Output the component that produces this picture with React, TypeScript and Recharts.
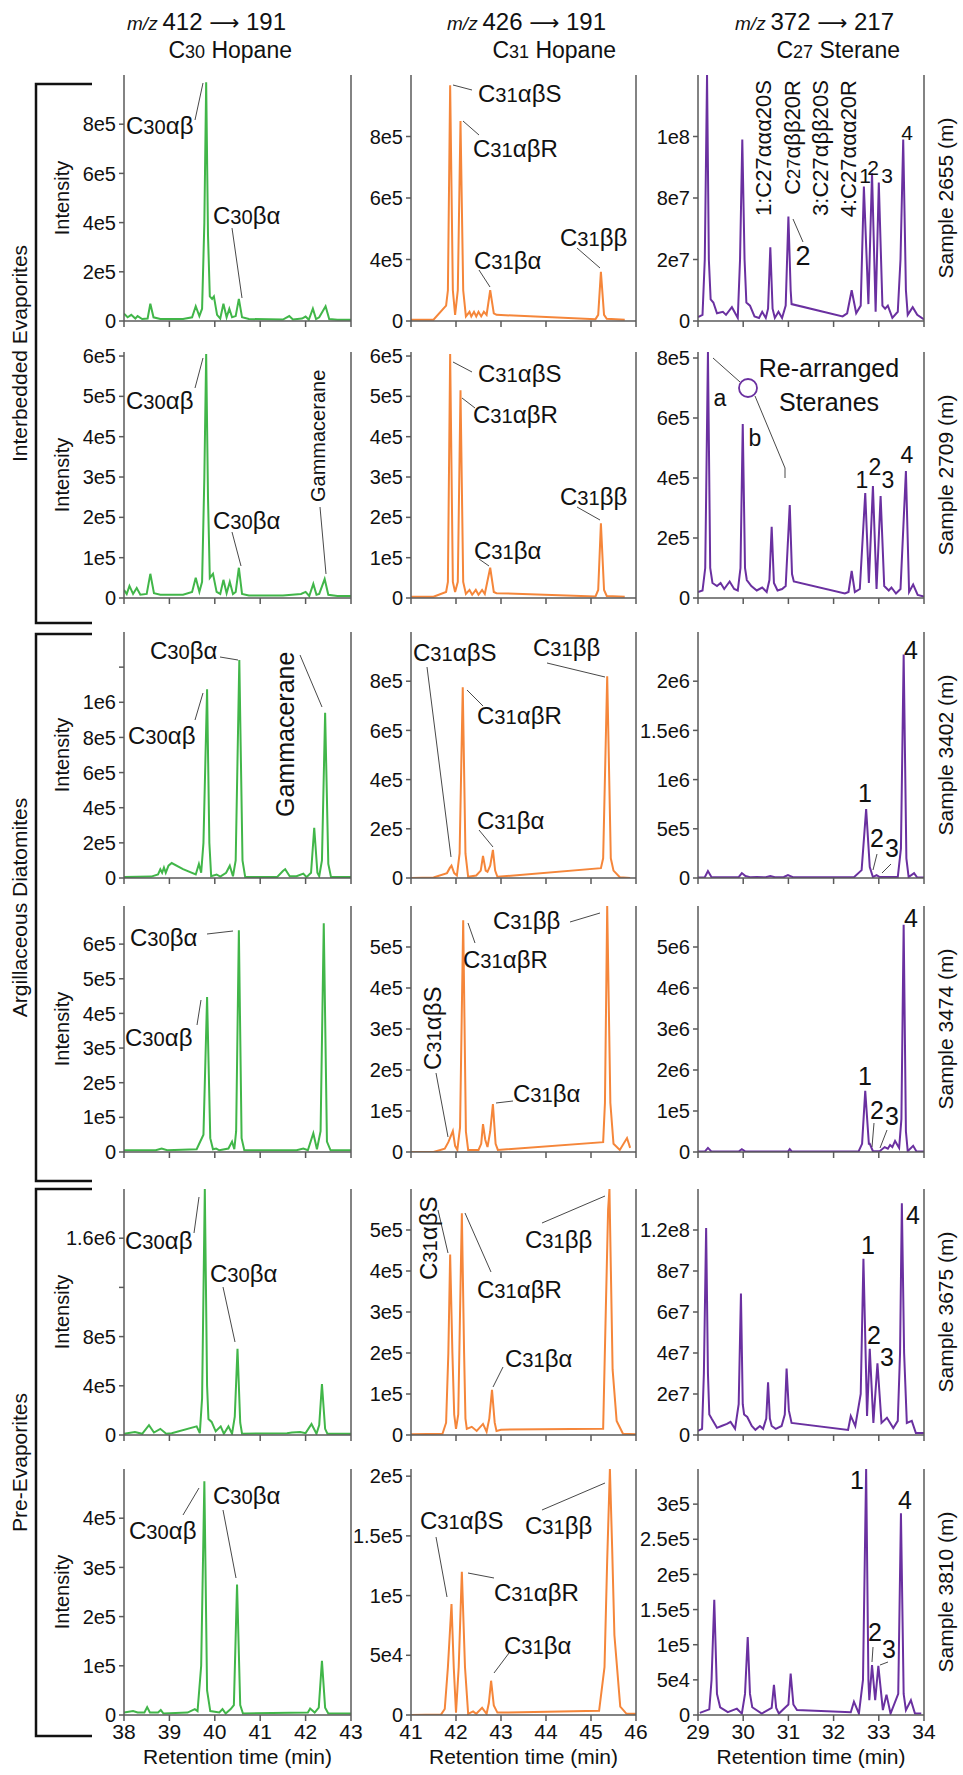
import React from 'react';
import { LineChart, Line, XAxis, YAxis, ReferenceLine, ReferenceDot } from 'recharts';

// retention time ticks (min), one set per column
const RT_C30 = [38, 39, 40, 41, 42, 43];
const RT_C31 = [41, 42, 43, 44, 45, 46];
const RT_C27 = [29, 30, 31, 32, 33, 34];

const SAMPLES = ['2655', '2709', '3402', '3474', '3675', '3810'];
const GROUPS = ['Interbedded Evaporites', 'Argillaceous Diatomites', 'Pre-Evaporites'];
const HEADERS = [
  { mz: '412', to: '191', c: '30', name: 'Hopane' },
  { mz: '426', to: '191', c: '31', name: 'Hopane' },
  { mz: '372', to: '217', c: '27', name: 'Sterane' },
];

// ---- chromatograms: [retention time, intensity] ----
const c30_2655 = [[38.0,3e4],[38.08,1.5e4],[38.16,2.5e4],[38.25,1e4],[38.3,2e4],[38.4,8e3],[38.52,1e4],[38.58,7e4],[38.65,1.5e4],[38.8,8e3],[39.3,8e3],[39.5,1.5e4],[39.58,6e4],[39.66,2e4],[39.72,5e4],[39.77,4e5],[39.81,9.7e5],[39.85,3.5e5],[39.89,1e5],[39.94,9e4],[39.98,1e5],[40.05,2.5e4],[40.12,1e4],[40.19,7e4],[40.26,1.5e4],[40.32,5e4],[40.38,1.5e4],[40.46,2e4],[40.53,9e4],[40.6,1.5e4],[40.75,8e3],[41.5,6e3],[41.64,2e4],[41.72,6e3],[41.92,1e4],[42.0,1.8e4],[42.07,5e3],[42.16,5e4],[42.23,8e3],[42.3,1.5e4],[42.44,6e4],[42.52,8e3],[42.7,5e3],[43.0,5e3]];
const c31_2655 = [[41.0,2.04e5],[41.5,2.04e5],[41.78,2.5e5],[41.82,3e5],[41.87,9.67e5],[41.93,3e5],[41.98,2.2e5],[42.04,3e5],[42.1,8.5e5],[42.16,3e5],[42.22,2.15e5],[42.3,2.3e5],[42.34,2.15e5],[42.4,2.3e5],[42.45,2.15e5],[42.5,2.3e5],[42.56,2.15e5],[42.62,2.3e5],[42.68,2.2e5],[42.76,3.0e5],[42.84,2.25e5],[42.9,2.2e5],[45.1,2.06e5],[45.16,2.2e5],[45.22,3.6e5],[45.29,2.2e5],[45.35,2.07e5],[45.75,2.04e5]];
const st_2655 = [[29.0,4.13e7],[29.1,4.2e7],[29.15,6e7],[29.2,1.2e8],[29.24,6e7],[29.28,4.7e7],[29.34,4.6e7],[29.42,4.25e7],[29.55,4.3e7],[29.62,4.2e7],[29.75,4.45e7],[29.88,4.1e7],[29.93,6e7],[29.98,9.9e7],[30.03,6e7],[30.07,4.6e7],[30.15,4.5e7],[30.25,4.15e7],[30.35,4.1e7],[30.42,4.3e7],[30.5,4.1e7],[30.55,4.4e7],[30.6,6.4e7],[30.65,4.4e7],[30.7,4.1e7],[30.78,4.3e7],[30.86,4.1e7],[30.94,4.5e7],[31.0,7.4e7],[31.05,5e7],[31.07,4.55e7],[32.2,4.15e7],[32.3,4.25e7],[32.4,5.0e7],[32.5,4.25e7],[32.6,4.5e7],[32.67,8.37e7],[32.77,4.55e7],[32.85,8.8e7],[32.93,4.3e7],[33.0,8.5e7],[33.08,4.5e7],[33.14,4.4e7],[33.2,4.5e7],[33.3,4.1e7],[33.42,4.3e7],[33.48,6e7],[33.54,9.9e7],[33.6,5e7],[33.64,4.2e7],[33.75,4.45e7],[33.85,4.2e7],[34.0,4.05e7]];

const c30_2709 = [[38.0,2e4],[38.06,1e4],[38.12,3e4],[38.2,1e4],[38.28,2.5e4],[38.36,8e3],[38.5,1e4],[38.58,6e4],[38.66,1.2e4],[38.8,8e3],[39.3,8e3],[39.5,1.5e4],[39.58,5e4],[39.66,1.5e4],[39.72,4e4],[39.77,3e5],[39.81,6.05e5],[39.85,2.5e5],[39.89,5e4],[39.96,6e4],[40.04,1.5e4],[40.12,1e4],[40.19,4.5e4],[40.26,1.2e4],[40.33,4e4],[40.4,1e4],[40.46,1.5e4],[40.53,7.5e4],[40.6,1e4],[40.75,6e3],[41.5,6e3],[41.9,1e4],[42.0,1.5e4],[42.08,5e3],[42.17,3.5e4],[42.24,8e3],[42.3,1e4],[42.42,4.7e4],[42.5,8e3],[42.7,5e3],[43.0,5e3]];
const c31_2709 = [[41.0,3e3],[41.5,3e3],[41.78,1.5e4],[41.82,4e4],[41.87,6.05e5],[41.93,4e4],[41.98,1.5e4],[42.04,4e4],[42.1,5.15e5],[42.16,4e4],[42.22,1e4],[42.3,2e4],[42.36,8e3],[42.44,2e4],[42.5,8e3],[42.58,2e4],[42.64,1e4],[42.76,7.5e4],[42.84,1.5e4],[42.9,1.2e4],[45.1,4e3],[45.16,2e4],[45.22,1.85e5],[45.29,2e4],[45.35,5e3],[45.75,3e3]];
const st_2709 = [[29.0,2e4],[29.1,2.5e4],[29.16,1e5],[29.22,8.2e5],[29.27,1e5],[29.32,5e4],[29.42,4e4],[29.5,5e4],[29.58,3e4],[29.7,5.5e4],[29.8,3e4],[29.88,2.5e4],[29.94,1e5],[29.99,5.8e5],[30.04,1e5],[30.08,6e4],[30.18,4e4],[30.3,2.5e4],[30.42,3.5e4],[30.52,2e4],[30.58,6e4],[30.63,2.37e5],[30.68,5e4],[30.76,2.5e4],[30.86,3e4],[30.94,4e4],[31.03,3.1e5],[31.08,8e4],[31.12,5.5e4],[32.25,1.5e4],[32.33,2e4],[32.4,9e4],[32.47,2e4],[32.58,3e4],[32.7,3.5e5],[32.78,5e4],[32.87,3.73e5],[32.95,3e4],[33.04,3.4e5],[33.12,4e4],[33.22,2.5e4],[33.28,3.5e4],[33.38,1.5e4],[33.48,3e4],[33.6,4.23e5],[33.67,2e4],[33.76,4.5e4],[33.86,1e4],[34.0,5e3]];

const c30_3402 = [[38.0,5e3],[38.6,8e3],[38.75,2e4],[38.8,5e4],[38.84,3e4],[38.88,6e4],[38.92,3e4],[38.98,7e4],[39.05,8.5e4],[39.3,5e4],[39.58,2e4],[39.65,8e4],[39.7,3e4],[39.75,2e5],[39.83,1.074e6],[39.88,2e5],[39.92,1e4],[40.04,2e4],[40.12,8e3],[40.25,3e4],[40.33,7e4],[40.4,1e4],[40.46,1e5],[40.54,1.24e6],[40.61,1e5],[40.67,5e3],[41.37,5e3],[41.5,4e4],[41.55,5e4],[41.65,1e4],[41.8,1e4],[41.95,2.5e4],[42.02,5e3],[42.12,3e4],[42.19,2.86e5],[42.26,3e4],[42.3,1e4],[42.36,1e5],[42.43,9.4e5],[42.5,8e4],[42.56,5e3],[43.0,5e3]];
const c31_3402 = [[41.0,0],[41.5,2e3],[41.8,2e4],[41.86,4e4],[41.9,5e4],[41.96,2e4],[42.02,1e4],[42.08,1e5],[42.15,7.75e5],[42.21,1e5],[42.27,5e3],[42.45,1e4],[42.55,3e4],[42.6,9e4],[42.66,3e4],[42.7,2.5e4],[42.76,5e4],[42.82,1.14e5],[42.87,3e4],[42.92,5e3],[45.22,4e4],[45.27,8e4],[45.36,8.2e5],[45.44,8e4],[45.5,3e4],[45.64,3e3],[45.87,0]];
const st_3402 = [[29.0,5e3],[29.15,8e3],[29.22,7e4],[29.3,8e3],[29.9,8e3],[29.97,5e4],[30.05,2e4],[30.15,8e3],[30.3,1e4],[30.5,8e3],[30.6,2e4],[30.7,8e3],[30.9,1e4],[30.99,3e4],[31.1,8e3],[32.45,8e3],[32.62,8e4],[32.72,7e5],[32.8,1.1e5],[32.87,1e4],[32.95,3e4],[33.02,1e4],[33.42,1e4],[33.49,3e5],[33.55,2.27e6],[33.61,2e5],[33.66,1e4],[33.78,5e4],[33.85,5e3],[34.0,5e3]];

const c30_3474 = [[38.0,5e3],[38.7,5e3],[38.83,1e4],[38.95,5e3],[39.6,8e3],[39.75,5e4],[39.83,4.47e5],[39.9,4e4],[39.96,8e3],[40.03,1e4],[40.1,5e3],[40.3,1e4],[40.38,3e4],[40.43,8e3],[40.47,6e4],[40.53,6.4e5],[40.59,4e4],[40.65,5e3],[41.8,5e3],[41.95,1e4],[42.05,5e3],[42.17,5.4e4],[42.25,8e3],[42.33,6e4],[42.4,6.6e5],[42.47,3e4],[42.55,5e3],[43.0,5e3]];
const c31_3474 = [[41.0,0],[41.5,0],[41.75,8e3],[41.83,2.4e4],[41.93,5.1e4],[41.98,1.5e4],[42.03,5e3],[42.09,6e4],[42.16,5.65e5],[42.22,5e4],[42.27,5e3],[42.5,5e3],[42.56,2e4],[42.6,6.8e4],[42.65,3e4],[42.7,1.2e4],[42.76,5e4],[42.82,1.17e5],[42.88,2e4],[42.93,5e3],[45.27,2.4e4],[45.31,1.2e5],[45.36,6e5],[45.43,1.2e5],[45.5,2e4],[45.64,5e3],[45.8,3.4e4],[45.87,1e4]];
const st_3474 = [[29.0,1e4],[29.15,1e4],[29.22,1e5],[29.3,1e4],[29.9,1e4],[29.97,7e4],[30.05,1e4],[30.99,1e4],[31.03,7e4],[31.08,1e4],[32.55,1e4],[32.63,2e5],[32.7,1.49e6],[32.78,2e5],[32.8,2e5],[32.87,2e4],[33.02,2e4],[33.13,1.2e5],[33.2,8e4],[33.25,1.7e5],[33.3,1.2e5],[33.36,2.7e5],[33.45,1e5],[33.5,8e5],[33.55,5.54e6],[33.6,5e5],[33.64,2e4],[33.76,1.5e5],[33.83,2e4],[34.0,1e4]];

const c30_3675 = [[38.0,1e4],[38.24,2.5e4],[38.4,1e4],[38.55,8e4],[38.66,2e4],[38.8,5e4],[38.93,1e4],[39.05,1.5e4],[39.6,7e4],[39.67,1.5e4],[39.72,3e5],[39.78,2.0e6],[39.83,4e5],[39.86,1.3e5],[39.93,1.06e5],[40.02,3e4],[40.13,7e4],[40.2,1e4],[40.3,7e4],[40.38,1e4],[40.44,1.5e5],[40.5,7e5],[40.56,1e5],[40.6,1e4],[41.59,1.5e4],[41.7,2e4],[41.88,2.5e4],[42.0,1.5e4],[42.13,9e4],[42.24,1e4],[42.3,8e4],[42.36,4.15e5],[42.43,5e4],[42.48,1e4],[43.0,1e4]];
const c31_3675 = [[41.0,2e3],[41.7,3e3],[41.78,3e4],[41.83,2e5],[41.87,4.4e5],[41.92,2e5],[41.96,5e4],[42.0,1.5e4],[42.05,5e4],[42.09,3e5],[42.13,5.41e5],[42.18,2e5],[42.21,4e4],[42.24,1.5e4],[42.35,2e4],[42.46,1e4],[42.6,2.7e4],[42.68,8e3],[42.74,4e4],[42.8,1.1e5],[42.86,3e4],[42.9,1e4],[43.0,1.3e4],[45.27,1.5e4],[45.33,3.1e5],[45.38,5.5e5],[45.41,6e5],[45.48,1.6e5],[45.57,3.4e4],[45.71,3e3],[46.0,2e3]];
const st_3675 = [[29.0,2e6],[29.09,3e6],[29.13,3e7],[29.18,1.01e8],[29.22,3e7],[29.25,1e7],[29.3,8e6],[29.42,3.5e6],[29.52,4.4e6],[29.64,5.4e6],[29.72,6.4e6],[29.82,3e6],[29.9,1.5e7],[29.95,6.9e7],[29.99,1.5e7],[30.02,1e7],[30.09,8.8e6],[30.19,4.4e6],[30.27,2.5e6],[30.37,4.4e6],[30.44,3e6],[30.51,8e6],[30.55,2.57e7],[30.59,8e6],[30.63,4.4e6],[30.72,3e6],[30.85,4.4e6],[30.92,1e7],[30.96,3.24e7],[31.01,1.2e7],[31.07,5.9e6],[32.32,2.5e6],[32.38,9.3e6],[32.48,4.4e6],[32.6,2e7],[32.66,8.6e7],[32.74,9.3e6],[32.8,4.2e7],[32.88,5.9e6],[32.97,3.5e7],[33.06,5.9e6],[33.18,8.4e6],[33.32,3.4e6],[33.42,6.9e6],[33.47,4e7],[33.51,1.13e8],[33.56,4e7],[33.62,5.9e6],[33.73,6.9e6],[33.82,1e6],[34.0,1e6]];

const c30_3810 = [[38.0,5e3],[38.2,8e3],[38.3,5e3],[38.45,5e3],[38.51,1.6e4],[38.57,5e3],[38.75,5e3],[38.81,1e4],[38.87,3e3],[39.4,5e3],[39.56,1.2e4],[39.62,8e3],[39.7,1e5],[39.77,4.75e5],[39.83,5e4],[39.9,8e3],[40.1,5e3],[40.17,1.2e4],[40.24,3e3],[40.35,1.2e4],[40.42,2e4],[40.49,2.65e5],[40.56,2e4],[40.62,3e3],[42.05,5e3],[42.1,1.3e4],[42.2,5e3],[42.29,1.5e4],[42.36,1.1e5],[42.43,1.5e4],[42.5,3e3],[43.0,3e3]];
const c31_3810 = [[41.0,0],[41.67,500],[41.75,5e3],[41.82,4e4],[41.9,9.3e4],[41.95,4e4],[42.0,2e3],[42.06,4e4],[42.13,1.2e5],[42.2,4e4],[42.27,1e3],[42.38,3e3],[42.45,1e3],[42.58,6e3],[42.68,1e3],[42.73,1e4],[42.78,2.87e4],[42.84,8e3],[42.92,2e3],[45.18,3.5e3],[45.3,4e4],[45.36,1.3e5],[45.42,2.06e5],[45.47,1.4e5],[45.52,6.7e4],[45.65,7e3],[45.79,1e3],[46.0,1e3]];
const st_3810 = [[29.04,3e3],[29.25,8e3],[29.3,5e4],[29.36,1.64e5],[29.42,3e4],[29.49,1.1e4],[29.66,4e3],[29.86,9e3],[29.97,2e3],[30.04,3e4],[30.1,1.11e5],[30.15,3e4],[30.2,1.1e4],[30.41,2e3],[30.63,1e4],[30.68,4.3e4],[30.73,1e4],[30.79,2e3],[31.0,1.5e4],[31.05,5.9e4],[31.11,1.5e4],[31.19,7e3],[32.38,4e3],[32.45,1.9e4],[32.56,2e3],[32.65,5e4],[32.72,3.5e5],[32.77,5e4],[32.79,2.1e4],[32.85,7.1e4],[32.92,2.1e4],[32.99,7e4],[33.09,7e3],[33.17,2.9e4],[33.26,2e3],[33.43,3e4],[33.49,2.87e5],[33.55,3e4],[33.6,7e3],[33.71,2.1e4],[33.8,2e3],[33.94,2e3]];

// ---- y tick values and the labels printed at them ----
const yt_2655_c30 = [0, 2e5, 4e5, 6e5, 8e5];   const yl_2655_c30 = ['0', '2e5', '4e5', '6e5', '8e5'];
const yt_2655_c31 = [2e5, 4e5, 6e5, 8e5];      const yl_2655_c31 = ['0', '4e5', '6e5', '8e5'];
const yt_2655_st = [4e7, 6e7, 8e7, 1e8];       const yl_2655_st = ['0', '2e7', '8e7', '1e8'];
const yt_2709_c30 = [0, 1e5, 2e5, 3e5, 4e5, 5e5, 6e5]; const yl_2709_c30 = ['0', '1e5', '2e5', '3e5', '4e5', '5e5', '6e5'];
const yt_2709_c31 = [0, 1e5, 2e5, 3e5, 4e5, 5e5, 6e5]; const yl_2709_c31 = ['0', '1e5', '2e5', '3e5', '4e5', '5e5', '6e5'];
const yt_2709_st = [0, 2e5, 4e5, 6e5, 8e5];    const yl_2709_st = ['0', '2e5', '4e5', '6e5', '8e5'];
const yt_3402_c30 = [0, 2e5, 4e5, 6e5, 8e5, 1e6, 1.2e6]; const yl_3402_c30 = ['0', '2e5', '4e5', '6e5', '8e5', '1e6', ''];
const yt_3402_c31 = [0, 2e5, 4e5, 6e5, 8e5];   const yl_3402_c31 = ['0', '2e5', '4e5', '6e5', '8e5'];
const yt_3402_st = [0, 5e5, 1e6, 1.5e6, 2e6];  const yl_3402_st = ['0', '5e5', '1e6', '1.5e6', '2e6'];
const yt_3474_c30 = [0, 1e5, 2e5, 3e5, 4e5, 5e5, 6e5]; const yl_3474_c30 = ['0', '1e5', '2e5', '3e5', '4e5', '5e5', '6e5'];
const yt_3474_c31 = [0, 1e5, 2e5, 3e5, 4e5, 5e5]; const yl_3474_c31 = ['0', '1e5', '2e5', '3e5', '4e5', '5e5'];
const yt_3474_st = [0, 1e6, 2e6, 3e6, 4e6, 5e6]; const yl_3474_st = ['0', '1e5', '2e6', '3e6', '4e6', '5e6'];
const yt_3675_c30 = [0, 4e5, 8e5, 1.2e6, 1.6e6]; const yl_3675_c30 = ['0', '4e5', '8e5', '', '1.6e6'];
const yt_3675_c31 = [0, 1e5, 2e5, 3e5, 4e5, 5e5]; const yl_3675_c31 = ['0', '1e5', '2e5', '3e5', '4e5', '5e5'];
const yt_3675_st = [0, 2e7, 4e7, 6e7, 8e7, 1e8]; const yl_3675_st = ['0', '2e7', '4e7', '6e7', '8e7', '1.2e8'];
const yt_3810_c30 = [0, 1e5, 2e5, 3e5, 4e5];   const yl_3810_c30 = ['0', '1e5', '2e5', '3e5', '4e5'];
const yt_3810_c31 = [0, 5e4, 1e5, 1.5e5, 2e5]; const yl_3810_c31 = ['0', '5e4', '1e5', '1.5e5', '2e5'];
const yt_3810_st = [0, 5e4, 1e5, 1.5e5, 2e5, 2.5e5, 3e5]; const yl_3810_st = ['0', '5e4', '1e5', '1.5e5', '2e5', '2.5e5', '3e5'];

// ---- layout ----
const W = 963;
const H = 1775;
const FONT = "'Liberation Sans', Arial, Helvetica, sans-serif";
const GREEN = '#41b649';
const ORANGE = '#f5863a';
const PURPLE = '#6a30a0';
const AX = '#5a5a5a';
const ML = 80;
const MR = 8;
const PAD_R = 16;
const MT = 14;
const PH = 246;
const COLS = [
  { left: 124, w: 227, rt: RT_C30, color: GREEN },
  { left: 411, w: 225, rt: RT_C31, color: ORANGE },
  { left: 698, w: 226, rt: RT_C27, color: PURPLE },
];
const ROW_TOP = [75, 352, 632, 906, 1189, 1469];
const BRACKETS = [[84, 623], [634, 1181], [1189, 1736]];

type Note = { dx: number; dy: number; text: string; rot?: boolean; anchor?: 'start' | 'middle' | 'end'; fs?: number };
type Panel = {
  row: number; col: number; data: number[][]; dom: [number, number]; yt: number[]; yl: string[];
  notes: Note[]; leads: number[][]; ring?: { dx: number; dy: number; r: number };
};

// annotation positions are pixel offsets from the panel's top-left corner
const PANELS: Panel[] = [
  { row: 0, col: 0, data: c30_2655, dom: [0, 1e6], yt: yt_2655_c30, yl: yl_2655_c30,
    notes: [{ dx: 2, dy: 50, text: 'C30αβ' }, { dx: 89, dy: 140, text: 'C30βα' }],
    leads: [[71, 45, 79, 8], [108, 153, 118, 223]] },
  { row: 0, col: 1, data: c31_2655, dom: [2e5, 1e6], yt: yt_2655_c31, yl: yl_2655_c31,
    notes: [{ dx: 67, dy: 18, text: 'C31αβS' }, { dx: 62, dy: 73, text: 'C31αβR' }, { dx: 63, dy: 185, text: 'C31βα' }, { dx: 149, dy: 162, text: 'C31ββ' }],
    leads: [[61, 15, 42, 10], [52, 46, 68, 60], [68, 195, 79, 212], [166, 173, 189, 193]] },
  { row: 0, col: 2, data: st_2655, dom: [4e7, 1.2e8], yt: yt_2655_st, yl: yl_2655_st,
    notes: [
      { dx: 65, dy: 5, text: '1:C27ααα20S', rot: true, anchor: 'end', fs: 22 },
      { dx: 94, dy: 5, text: 'C27αββ20R', rot: true, anchor: 'end', fs: 22 },
      { dx: 122, dy: 5, text: '3:C27αββ20S', rot: true, anchor: 'end', fs: 22 },
      { dx: 150, dy: 5, text: '4:C27ααα20R', rot: true, anchor: 'end', fs: 22 },
      { dx: 105, dy: 180, text: '2', fs: 27 },
      { dx: 167, dy: 100, text: '1', fs: 21 }, { dx: 175, dy: 92, text: '2', fs: 21 },
      { dx: 189, dy: 100, text: '3', fs: 21 }, { dx: 209, dy: 57, text: '4', fs: 21 },
    ],
    leads: [[95, 144, 105, 167]] },

  { row: 1, col: 0, data: c30_2709, dom: [0, 6.1e5], yt: yt_2709_c30, yl: yl_2709_c30,
    notes: [{ dx: 2, dy: 48, text: 'C30αβ' }, { dx: 89, dy: 168, text: 'C30βα' }, { dx: 194, dy: 150, text: 'Gammacerane', rot: true, fs: 20 }],
    leads: [[71, 36, 79, 6], [108, 180, 117, 214], [196, 155, 202, 222]] },
  { row: 1, col: 1, data: c31_2709, dom: [0, 6.1e5], yt: yt_2709_c31, yl: yl_2709_c31,
    notes: [{ dx: 67, dy: 21, text: 'C31αβS' }, { dx: 62, dy: 62, text: 'C31αβR' }, { dx: 63, dy: 198, text: 'C31βα' }, { dx: 149, dy: 144, text: 'C31ββ' }],
    leads: [[61, 20, 42, 10], [51, 46, 64, 56], [68, 207, 78, 214], [166, 155, 189, 168]] },
  { row: 1, col: 2, data: st_2709, dom: [0, 8.2e5], yt: yt_2709_st, yl: yl_2709_st,
    notes: [
      { dx: 131, dy: 16, text: 'Re-arranged', anchor: 'middle', fs: 25 },
      { dx: 131, dy: 50, text: 'Steranes', anchor: 'middle', fs: 25 },
      { dx: 22, dy: 46, text: 'a', fs: 23 }, { dx: 57, dy: 86, text: 'b', fs: 23 },
      { dx: 164, dy: 128, text: '1', fs: 23 }, { dx: 177, dy: 115, text: '2', fs: 23 },
      { dx: 190, dy: 128, text: '3', fs: 23 }, { dx: 209, dy: 103, text: '4', fs: 23 },
    ],
    ring: { dx: 50, dy: 36, r: 9 },
    leads: [[15, 6, 42, 30], [57, 44, 87, 116], [87, 116, 87, 126]] },

  { row: 2, col: 0, data: c30_3402, dom: [0, 1.4e6], yt: yt_3402_c30, yl: yl_3402_c30,
    notes: [{ dx: 26, dy: 18, text: 'C30βα' }, { dx: 4, dy: 103, text: 'C30αβ' }, { dx: 161, dy: 185, text: 'Gammacerane', rot: true, fs: 25 }],
    leads: [[96, 25, 114, 28], [71, 88, 79, 61], [176, 23, 198, 75]] },
  { row: 2, col: 1, data: c31_3402, dom: [0, 1e6], yt: yt_3402_c31, yl: yl_3402_c31,
    notes: [{ dx: 2, dy: 20, text: 'C31αβS' }, { dx: 122, dy: 15, text: 'C31ββ' }, { dx: 66, dy: 83, text: 'C31αβR' }, { dx: 66, dy: 188, text: 'C31βα' }],
    leads: [[16, 35, 40, 225], [136, 31, 194, 45], [56, 58, 72, 74], [68, 198, 82, 215]] },
  { row: 2, col: 2, data: st_3402, dom: [0, 2.5e6], yt: yt_3402_st, yl: yl_3402_st,
    notes: [{ dx: 167, dy: 161, text: '1', fs: 25 }, { dx: 179, dy: 206, text: '2', fs: 25 }, { dx: 194, dy: 216, text: '3', fs: 25 }, { dx: 213, dy: 18, text: '4', fs: 25 }],
    leads: [[179, 222, 175, 238], [193, 232, 184, 241]] },

  { row: 3, col: 0, data: c30_3474, dom: [0, 7.1e5], yt: yt_3474_c30, yl: yl_3474_c30,
    notes: [{ dx: 6, dy: 31, text: 'C30βα' }, { dx: 1, dy: 131, text: 'C30αβ' }],
    leads: [[83, 28, 109, 25], [73, 119, 77, 94]] },
  { row: 3, col: 1, data: c31_3474, dom: [0, 6e5], yt: yt_3474_c31, yl: yl_3474_c31,
    notes: [{ dx: 82, dy: 14, text: 'C31ββ' }, { dx: 52, dy: 53, text: 'C31αβR' }, { dx: 21, dy: 164, text: 'C31αβS', rot: true }, { dx: 102, dy: 187, text: 'C31βα' }],
    leads: [[159, 16, 189, 7], [57, 17, 64, 37], [25, 167, 37, 231], [102, 195, 85, 197]] },
  { row: 3, col: 2, data: st_3474, dom: [0, 6e6], yt: yt_3474_st, yl: yl_3474_st,
    notes: [{ dx: 167, dy: 170, text: '1', fs: 25 }, { dx: 179, dy: 204, text: '2', fs: 25 }, { dx: 194, dy: 210, text: '3', fs: 25 }, { dx: 213, dy: 12, text: '4', fs: 25 }],
    leads: [[176, 217, 174, 241], [189, 224, 182, 242]] },

  { row: 4, col: 0, data: c30_3675, dom: [0, 2e6], yt: yt_3675_c30, yl: yl_3675_c30,
    notes: [{ dx: 1, dy: 51, text: 'C30αβ' }, { dx: 86, dy: 84, text: 'C30βα' }],
    leads: [[70, 44, 75, 8], [99, 98, 111, 153]] },
  { row: 4, col: 1, data: c31_3675, dom: [0, 6e5], yt: yt_3675_c31, yl: yl_3675_c31,
    notes: [{ dx: 17, dy: 91, text: 'C31αβS', rot: true }, { dx: 66, dy: 100, text: 'C31αβR' }, { dx: 114, dy: 50, text: 'C31ββ' }, { dx: 94, dy: 169, text: 'C31βα' }],
    leads: [[27, 21, 37, 64], [54, 24, 80, 83], [131, 34, 194, 7], [92, 178, 82, 198]] },
  { row: 4, col: 2, data: st_3675, dom: [0, 1.2e8], yt: yt_3675_st, yl: yl_3675_st,
    notes: [{ dx: 170, dy: 56, text: '1', fs: 25 }, { dx: 176, dy: 146, text: '2', fs: 25 }, { dx: 189, dy: 168, text: '3', fs: 25 }, { dx: 215, dy: 26, text: '4', fs: 25 }],
    leads: [] },

  { row: 5, col: 0, data: c30_3810, dom: [0, 5e5], yt: yt_3810_c30, yl: yl_3810_c30,
    notes: [{ dx: 5, dy: 61, text: 'C30αβ' }, { dx: 89, dy: 26, text: 'C30βα' }],
    leads: [[59, 46, 75, 19], [99, 41, 112, 109]] },
  { row: 5, col: 1, data: c31_3810, dom: [0, 2.06e5], yt: yt_3810_c31, yl: yl_3810_c31,
    notes: [{ dx: 9, dy: 51, text: 'C31αβS' }, { dx: 114, dy: 56, text: 'C31ββ' }, { dx: 83, dy: 123, text: 'C31αβR' }, { dx: 93, dy: 176, text: 'C31βα' }],
    leads: [[25, 68, 36, 128], [131, 41, 194, 14], [57, 104, 83, 109], [98, 184, 83, 204]] },
  { row: 5, col: 2, data: st_3810, dom: [0, 3.5e5], yt: yt_3810_st, yl: yl_3810_st,
    notes: [{ dx: 159, dy: 11, text: '1', fs: 25 }, { dx: 207, dy: 31, text: '4', fs: 25 }, { dx: 177, dy: 163, text: '2', fs: 25 }, { dx: 191, dy: 180, text: '3', fs: 25 }],
    leads: [[175, 178, 174, 193], [190, 193, 182, 196]] },
];

function NoteText({ cx, cy, n }: { cx: number; cy: number; n: Note }) {
  const fs = n.fs ?? 24;
  const anchor = n.anchor ?? (n.rot ? 'start' : n.text.length === 1 ? 'middle' : 'start');
  const m = /^C(\d+)(.*)$/.exec(n.text);
  const body = m
    ? [<tspan key="c">C</tspan>, <tspan key="d" fontSize={fs * 0.84}>{m[1]}</tspan>, <tspan key="r">{m[2]}</tspan>]
    : n.text;
  return (
    <text
      x={cx}
      y={cy}
      dy={fs * 0.36}
      textAnchor={anchor}
      fontSize={fs}
      fill="#111"
      fontFamily={FONT}
      transform={n.rot ? `rotate(-90 ${cx} ${cy})` : undefined}
    >
      {body}
    </text>
  );
}

function Chromatogram({ p }: { p: Panel }) {
  const c = COLS[p.col];
  const top = ROW_TOP[p.row];
  const last = p.row === ROW_TOP.length - 1;
  const mB = last ? 36 : 10;
  const x0 = c.rt[0];
  const x1 = c.rt[c.rt.length - 1];
  const [y0, y1] = p.dom;
  const tx = (dx: number) => x0 + (dx / c.w) * (x1 - x0);
  const ty = (dy: number) => y1 - (dy / PH) * (y1 - y0);
  const rows = p.data.map(([t, v]) => ({ t, v }));
  const tickStyle = { fontSize: 20, fill: '#111', fontFamily: FONT };

  return (
    <div style={{ position: 'absolute', left: c.left - ML, top: top - MT }}>
      <LineChart
        width={ML + c.w + MR + PAD_R}
        height={MT + PH + mB}
        data={rows}
        margin={{ top: MT, right: PAD_R, bottom: 0, left: 0 }}
      >
        <XAxis
          dataKey="t"
          type="number"
          domain={[x0, x1]}
          ticks={c.rt}
          interval={0}
          allowDataOverflow
          height={mB}
          tickSize={6}
          tickMargin={3}
          stroke={AX}
          strokeWidth={1.5}
          tick={{ ...tickStyle, fontSize: 21 }}
          tickFormatter={(v) => (last ? String(v) : '')}
        />
        <XAxis xAxisId="top" orientation="top" type="number" domain={[x0, x1]} allowDataOverflow height={0} tick={false} tickLine={false} stroke={AX} strokeWidth={1.5} />
        <YAxis
          type="number"
          domain={p.dom}
          ticks={p.yt}
          interval={0}
          allowDataOverflow
          width={ML}
          tickSize={5}
          tickMargin={3}
          stroke={AX}
          strokeWidth={1.5}
          tick={tickStyle}
          tickFormatter={(v) => p.yl[p.yt.indexOf(v)] ?? ''}
        />
        <YAxis yAxisId="r" orientation="right" type="number" domain={p.dom} allowDataOverflow width={MR} tick={false} tickLine={false} stroke={AX} strokeWidth={1.5} />
        <Line type="linear" dataKey="v" stroke={c.color} strokeWidth={2} dot={false} isAnimationActive={false} />
        {p.leads.map((l, i) => (
          <ReferenceLine
            key={'l' + i}
            segment={[{ x: tx(l[0]), y: ty(l[1]) }, { x: tx(l[2]), y: ty(l[3]) }]}
            stroke="#333"
            strokeWidth={0.9}
            ifOverflow="visible"
          />
        ))}
        {p.ring && (
          <ReferenceDot x={tx(p.ring.dx)} y={ty(p.ring.dy)} r={p.ring.r} fill="none" stroke={PURPLE} strokeWidth={1.8} ifOverflow="visible" />
        )}
        {p.notes.map((n, i) => (
          <ReferenceDot
            key={'n' + i}
            x={tx(n.dx)}
            y={ty(n.dy)}
            r={0}
            ifOverflow="visible"
            shape={(props: any) => <NoteText cx={props.cx} cy={props.cy} n={n} />}
          />
        ))}
      </LineChart>
    </div>
  );
}

export default function App() {
  const mzEnds = [286, 606, 894];
  const nameEnds = [292, 616, 900];
  return (
    <div style={{ position: 'absolute', left: 0, top: 0, width: W, height: H, background: '#fff', overflow: 'hidden' }}>
      {PANELS.map((p, i) => (
        <Chromatogram key={i} p={p} />
      ))}
      <svg width={W} height={H} style={{ position: 'absolute', left: 0, top: 0, pointerEvents: 'none' }} fontFamily={FONT} fill="#111">
        {HEADERS.map((h, i) => (
          <g key={'h' + i}>
            <text x={mzEnds[i]} y={30} textAnchor="end" fontSize={24}>
              <tspan fontStyle="italic" fontSize={19}>m/z</tspan>
              <tspan>{'\u2009' + h.mz + ' '}</tspan>
              <tspan fontFamily="'DejaVu Sans', sans-serif" fontSize={21}>⟶</tspan>
              <tspan>{' ' + h.to}</tspan>
            </text>
            <text x={nameEnds[i]} y={58} textAnchor="end" fontSize={23}>
              <tspan>C</tspan>
              <tspan fontSize={18}>{h.c}</tspan>
              <tspan>{'\u00a0' + h.name}</tspan>
            </text>
          </g>
        ))}
        {BRACKETS.map(([a, b], i) => (
          <g key={'b' + i}>
            <path d={`M92 ${a} H36 V${b} H92`} fill="none" stroke="#111" strokeWidth={2.5} />
            <text x={20} y={(a + b) / 2} dy={7} transform={`rotate(-90 20 ${(a + b) / 2})`} textAnchor="middle" fontSize={21}>
              {GROUPS[i]}
            </text>
          </g>
        ))}
        {ROW_TOP.map((t, i) => (
          <g key={'r' + i}>
            <text x={62} y={t + PH / 2} dy={7} transform={`rotate(-90 62 ${t + PH / 2})`} textAnchor="middle" fontSize={20}>
              Intensity
            </text>
            <text x={946} y={t + PH / 2} dy={7} transform={`rotate(-90 946 ${t + PH / 2})`} textAnchor="middle" fontSize={21}>
              {`Sample ${SAMPLES[i]} (m)`}
            </text>
          </g>
        ))}
        {COLS.map((c, i) => (
          <text key={'x' + i} x={c.left + c.w / 2} y={1764} textAnchor="middle" fontSize={21}>
            Retention time (min)
          </text>
        ))}
      </svg>
    </div>
  );
}
